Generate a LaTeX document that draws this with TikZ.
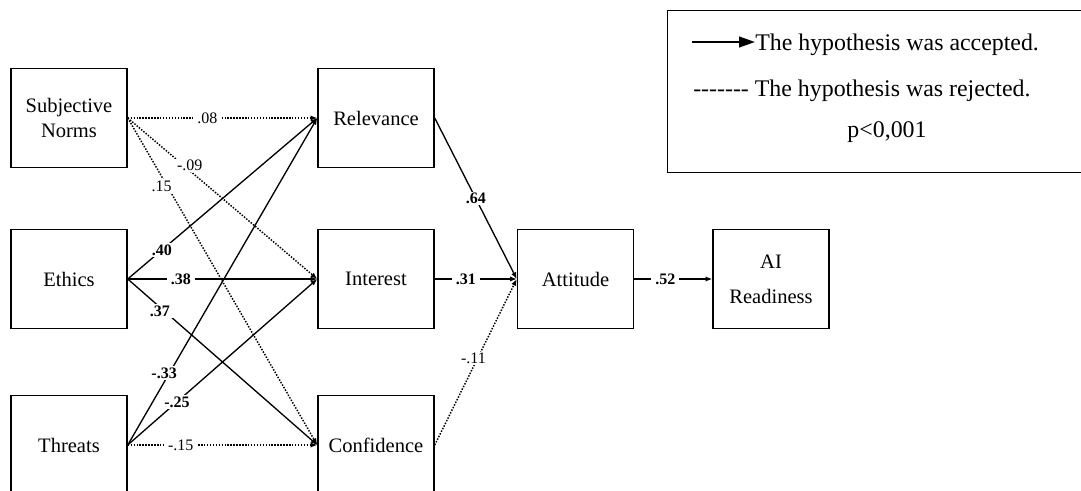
\documentclass[tikz,border=0pt]{standalone}
\usepackage{fontspec}
\setmainfont{Liberation Serif}
\usetikzlibrary{arrows.meta}
\newcommand{\hy}{\mbox{-}}
\begin{document}
\begin{tikzpicture}[x=0.75pt,y=-0.75pt,
 box/.style={draw,line width=1.1pt,minimum width=87pt,minimum height=74.25pt,inner sep=0pt,align=center,font=\fontsize{15.4}{18.75}\selectfont},
 acc/.style={line width=1pt,-{Latex[length=5pt,width=4pt]}},
 rej/.style={line width=1.1pt,dash pattern=on 1.1pt off 1.1pt,-{Latex[length=5pt,width=4pt]}},
 lab/.style={fill=white,inner xsep=3pt,inner ysep=1pt,font=\fontsize{12}{14}\selectfont},
 blab/.style={fill=white,inner xsep=3pt,inner ysep=1pt,font=\fontsize{12}{14}\selectfont\bfseries},
 legtext/.style={inner sep=0pt,font=\fontsize{17.9}{21}\selectfont}]
\useasboundingbox (0,0) rectangle (1081,491);
\clip (0,0) rectangle (1081,491);
% boxes
\node[box] (sn) at (69,118) {Subjective\\Norms};
\node[box] (eth) at (69,279) {Ethics};
\node[box] (thr) at (69,445) {Threats};
\node[box] (rel) at (376,118) {Relevance};
\node[box] (int) at (376,279) {Interest};
\node[box] (con) at (376,445) {Confidence};
\node[box] (att) at (575.5,279) {Attitude};
\node[box] (air) at (771,279) {AI\\[7.5pt]Readiness};
% paths
\draw[rej] (sn.east) -- node[lab,pos=0.32,xshift=1pt,yshift=3pt]{-.09} (int.west);
\draw[rej] (sn.east) -- node[lab,pos=0.2,xshift=-3pt,yshift=-2pt]{.15} (con.west);
\draw[rej] (sn.east) -- node[lab,pos=0.42]{.08} (rel.west);
\draw[acc] (eth.east) -- node[blab,pos=0.18]{.40} (rel.west);
\draw[acc] (eth.east) -- node[blab,pos=0.28]{.38} (int.west);
\draw[acc] (eth.east) -- node[blab,pos=0.17,yshift=-3pt]{.37} (con.west);
\draw[acc] (thr.east) -- node[blab,pos=0.22,xshift=-4pt]{-.33} (rel.west);
\draw[acc] (thr.east) -- node[blab,pos=0.26]{-.25} (int.west);
\draw[rej] (thr.east) -- node[lab,pos=0.28]{-.15} (con.west);
\draw[acc] (rel.east) -- node[blab,pos=0.5]{.64} (att.west);
\draw[acc] (int.east) -- node[blab,pos=0.38]{.31} (att.west);
\draw[rej] (con.east) -- node[lab,pos=0.52,xshift=-3pt]{-.11} (att.west);
\draw[acc] (att.east) -- node[blab,pos=0.4]{.52} (air.west);
% legend
\node[draw,line width=1.1pt,minimum width=321pt,minimum height=121.5pt,inner sep=0pt,anchor=north west] (leg) at (667,10) {};
\coordinate (la1) at (692,42);
\coordinate (la2) at (755,42);
\draw[line width=1.5pt,-{Triangle[length=12pt,width=8pt]}] (la1) -- (la2);
\node[legtext,anchor=base west] (t1) at (755,51) {The hypothesis was accepted.};
\node[legtext,anchor=base west] (t2) at (693,97) {\hy\hy\hy\hy\hy\hy\hy{} The hypothesis was rejected.};
\node[legtext,anchor=base] (t3) at (887,138) {p<0,001};
\end{tikzpicture}
\end{document}
